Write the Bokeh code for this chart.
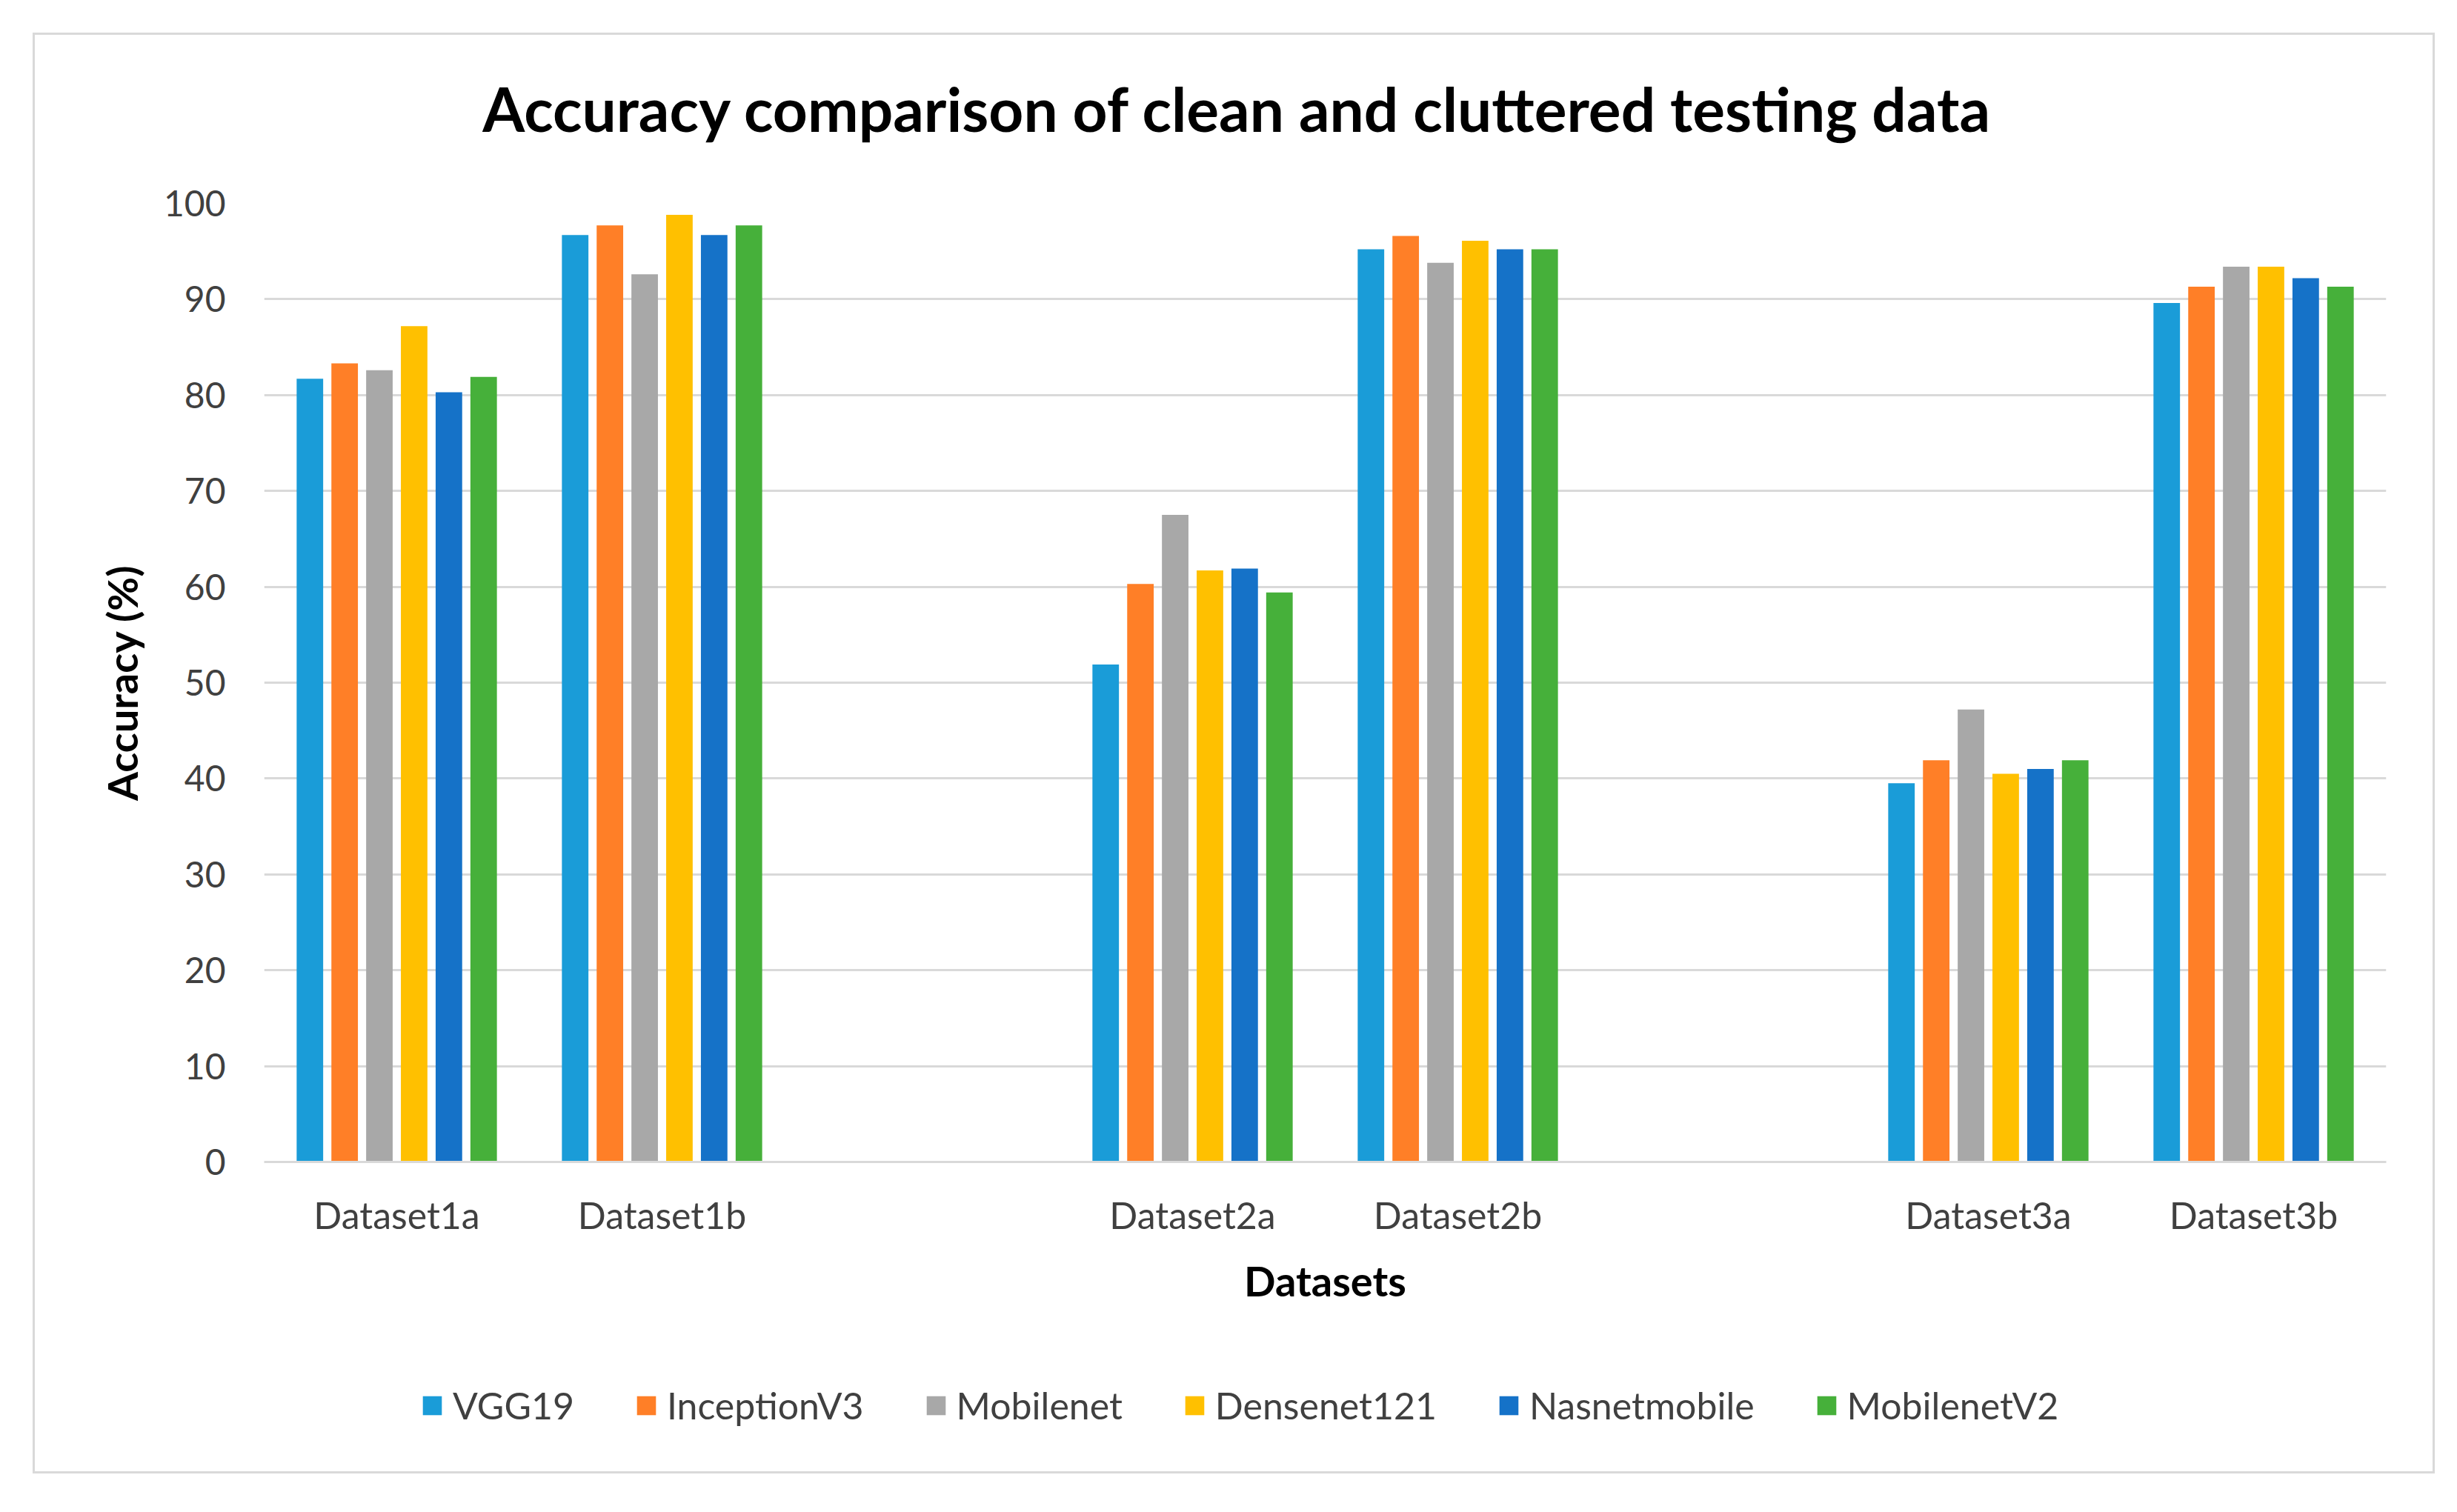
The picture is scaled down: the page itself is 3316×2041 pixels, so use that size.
from bokeh.plotting import figure
from bokeh.layouts import column
from bokeh.models import ColumnDataSource, FactorRange, Range1d, FixedTicker, Legend, LegendItem, Label
from bokeh.transform import dodge
from bokeh.embed import file_html
from bokeh.resources import INLINE

# ---- data ----
datasets = ["Dataset1a", "Dataset1b", "Dataset2a", "Dataset2b", "Dataset3a", "Dataset3b"]
x_factors = ["Dataset1a", "Dataset1b", " ", "Dataset2a", "Dataset2b", "  ", "Dataset3a", "Dataset3b"]
models = ["VGG19", "InceptionV3", "Mobilenet", "Densenet121", "Nasnetmobile", "MobilenetV2"]
vgg19 = [81.7, 96.7, 51.9, 95.2, 39.5, 89.6]
inceptionv3 = [83.3, 97.7, 60.3, 96.6, 41.9, 91.3]
mobilenet = [82.6, 92.6, 67.5, 93.8, 47.2, 93.4]
densenet121 = [87.2, 98.8, 61.7, 96.1, 40.5, 93.4]
nasnetmobile = [80.3, 96.7, 61.9, 95.2, 41.0, 92.2]
mobilenetv2 = [81.9, 97.7, 59.4, 95.2, 41.9, 91.3]
y_ticks = [0, 10, 20, 30, 40, 50, 60, 70, 80, 90, 100]
title_text = "Accuracy comparison of clean and cluttered testing data"

colors = ["#1A9CD8", "#FF7F27", "#A8A8A8", "#FFC000", "#1572C8", "#46B03A"]
series = [vgg19, inceptionv3, mobilenet, densenet121, nasnetmobile, mobilenetv2]

source = ColumnDataSource(data=dict(x=datasets, **{m: v for m, v in zip(models, series)}))

FONT = "Lato"
W = 3236

# ---- title strip ----
tf = figure(width=W, height=160, x_range=Range1d(0, 1), y_range=Range1d(0, 1), title=None,
            output_backend="svg", toolbar_location=None, x_axis_type=None, y_axis_type=None,
            min_border_left=0, min_border_right=0, min_border_top=0, min_border_bottom=0)
tf.outline_line_color = None
tf.grid.visible = False
tf.border_fill_color = "white"
tf.add_layout(Label(x=1314, y=62, x_units="screen", y_units="screen", text=title_text,
                    text_align="center", text_baseline="middle", text_font=FONT,
                    text_font_size="82px", text_font_style="bold", text_color="#000000"))

# ---- main chart ----
p = figure(width=W, height=1601, x_range=FactorRange(*x_factors, range_padding=0), title=None,
           y_range=Range1d(0, 100), output_backend="svg", toolbar_location=None,
           min_border_left=309, min_border_right=63, min_border_top=67, min_border_bottom=240)
p.outline_line_color = None
p.background_fill_color = "white"
p.border_fill_color = "white"

pitch = 0.131
width = 0.1
for i, (m, c) in enumerate(zip(models, colors)):
    off = (i - 2.5) * pitch
    p.vbar(x=dodge("x", off, range=p.x_range), top=m, width=width, source=source,
           fill_color=c, line_color=None)

p.yaxis.ticker = FixedTicker(ticks=y_ticks)
p.ygrid.ticker = FixedTicker(ticks=y_ticks)
p.ygrid.grid_line_color = "#D9D9D9"
p.ygrid.grid_line_width = 3
p.xgrid.grid_line_color = None
p.yaxis.axis_line_color = None
p.yaxis.major_tick_line_color = None
p.yaxis.minor_tick_line_color = None
p.yaxis.major_label_text_font = FONT
p.yaxis.major_label_text_font_size = "48px"
p.yaxis.major_label_text_color = "#404040"
p.yaxis.major_label_standoff = 46
p.yaxis.axis_label = "Accuracy (%)"
p.yaxis.axis_label_text_font = FONT
p.yaxis.axis_label_text_font_size = "56px"
p.yaxis.axis_label_text_font_style = "bold"
p.yaxis.axis_label_text_color = "#000000"
p.yaxis.axis_label_standoff = 20

p.xaxis.axis_line_color = "#D9D9D9"
p.xaxis.axis_line_width = 3
p.xaxis.major_tick_line_color = None
p.xaxis.minor_tick_line_color = None
p.xaxis.major_label_text_font = FONT
p.xaxis.major_label_text_font_size = "50px"
p.xaxis.major_label_text_color = "#404040"
p.xaxis.major_label_standoff = 35
p.xaxis.axis_label = "Datasets"
p.xaxis.axis_label_text_font = FONT
p.xaxis.axis_label_text_font_size = "56px"
p.xaxis.axis_label_text_font_style = "bold"
p.xaxis.axis_label_text_color = "#000000"
p.xaxis.axis_label_standoff = 22

# ---- legend strip (zero-size bars, only their legend swatches show) ----
lg = figure(width=W, height=178, x_range=FactorRange(*x_factors), y_range=Range1d(0, 200),
            title=None, output_backend="svg", toolbar_location=None,
            x_axis_type=None, y_axis_type=None,
            min_border_left=0, min_border_right=0, min_border_top=0, min_border_bottom=0)
lg.outline_line_color = None
lg.grid.visible = False
lg.background_fill_color = "white"
lg.border_fill_color = "white"
items = []
for m, c in zip(models, colors):
    r = lg.vbar(x="x", top=m, bottom=m, width=0.0, source=source, fill_color=c, line_color=None)
    items.append(LegendItem(label=m, renderers=[r]))
legend = Legend(items=items, orientation="horizontal", location=(211, 59))
legend.label_text_font = FONT
legend.label_text_font_size = "50px"
legend.label_text_color = "#404040"
legend.glyph_width = 32
legend.glyph_height = 32
legend.label_standoff = 12
legend.spacing = 81
legend.padding = 10
legend.margin = 0
legend.border_line_color = None
legend.background_fill_alpha = 0
lg.add_layout(legend, "center")

lay = column(tf, p, lg, spacing=0)
lay.margin = (47, 0, 0, 47)
lay.styles = {"outline": "3px solid #D9D9D9"}

open("out.html", "w").write(file_html(lay, INLINE))
